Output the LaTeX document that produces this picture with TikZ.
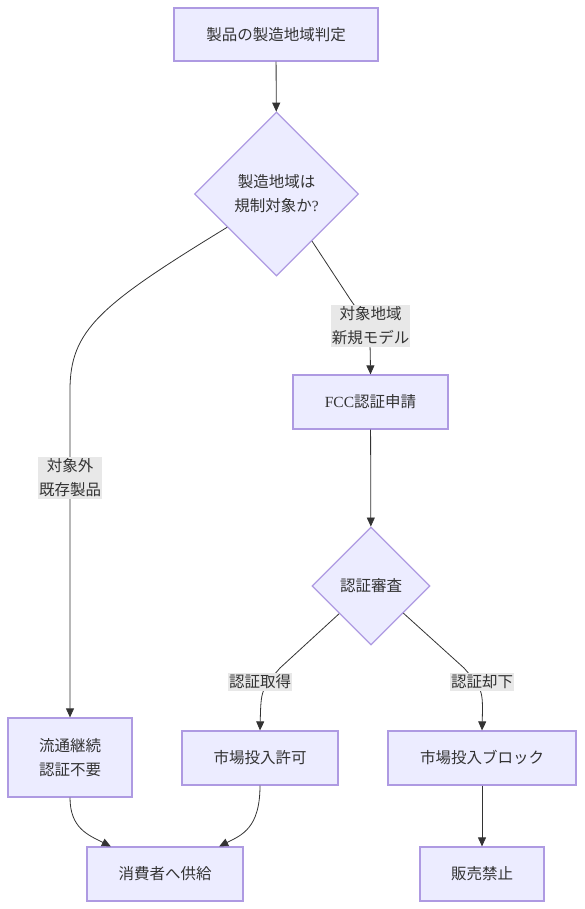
\documentclass[tikz,border=0pt]{standalone}
\usepackage{fontspec}
\setmainfont{Liberation Serif}
\newfontfamily\cjk{Noto Sans CJK JP}
\usepackage{xcolor}
\usepackage{tikz}
\usetikzlibrary{arrows.meta,shapes.geometric}
\definecolor{cFill}{HTML}{ECECFF}
\definecolor{cEdge}{HTML}{AE9AE2}
\definecolor{cLine}{HTML}{333333}
\definecolor{cLbl}{HTML}{E8E8E8}
\tikzset{
  proc/.style={draw=cEdge, line width=1.2pt, fill=cFill, text=cLine, align=center,
               inner sep=0pt, minimum height=54},
  decision/.style={diamond, aspect=1, draw=cEdge, line width=1.2pt, fill=cFill, text=cLine,
                   align=center, inner sep=0pt, minimum width=#1, minimum height=#1},
  flow/.style={-{Stealth[length=9pt, width=8pt, inset=0pt]}, line width=0.8pt, draw=cLine},
  lbl/.style={fill=cLbl, text=cLine, align=center, inner xsep=1pt, inner ysep=2pt},
}

\begin{document}
\begin{tikzpicture}[x=1pt, y=-1pt, font=\cjk\fontsize{15.5}{24}\selectfont]
  \useasboundingbox (0,0) rectangle (584,909);
  \node[proc, minimum width=204, minimum height=53] (origin) at (276,34.5) {製品の製造地域判定};
  \node[decision=164] (region) at (276.5,194) {製造地域は\\規制対象か\textrm{?}};
  \node[proc, minimum width=155] (apply) at (370.5,402) {\textrm{FCC}認証申請};
  \node[decision=118] (review) at (371,586) {認証審査};
  \node[proc, minimum width=124, minimum height=79] (keep) at (70,757.5) {流通継続\\認証不要};
  \node[proc, minimum width=156] (permit) at (260,758) {市場投入許可};
  \node[proc, minimum width=188] (block) at (482,758) {市場投入ブロック};
  \node[proc, minimum width=156] (supply) at (165,874) {消費者へ供給};
  \node[proc, minimum width=124] (ban) at (482,874) {販売禁止};

  % connectors
  \draw[flow] (origin) -- (region);
  \draw[flow] (region.214) .. controls (100,305) and (70,330) .. (70,390) -- (keep.north);
  \draw[flow] (region.-53) -- (350,299) .. controls (370,328) .. (apply.north);
  \draw[flow] (apply) -- (review);
  \draw[flow] (review.221) -- (280,668) .. controls (261,690) .. (permit.north);
  \draw[flow] (review.-40) -- (464,668) .. controls (483,690) .. (block.north);
  \draw[flow] (block) -- (ban);
  \draw[flow] (keep.south) .. controls (70,828) and (88,835) .. (supply.153);
  \draw[flow] (permit.south) .. controls (260,828) and (242,835) .. (supply.27);

  % edge labels
  \node[lbl] (lnew) at (370.5,326) {対象地域\\新規モデル};
  \node[lbl] (lold) at (70,478) {対象外\\既存製品};
  \node[lbl] (lok) at (260,682) {認証取得};
  \node[lbl] (lng) at (482,682) {認証却下};
\end{tikzpicture}
\end{document}
